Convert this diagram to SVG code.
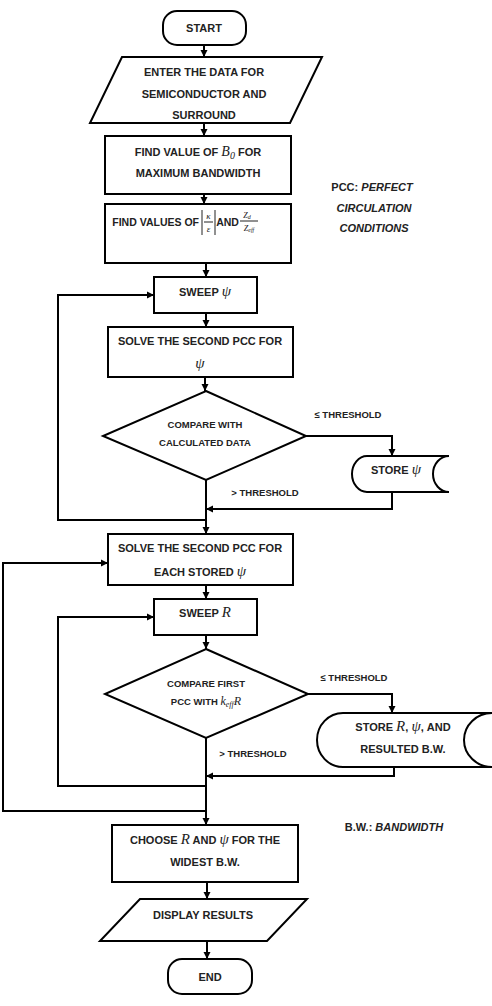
<svg xmlns="http://www.w3.org/2000/svg" width="492" height="1006" viewBox="0 0 492 1006">
<style>
.s{fill:#fff;stroke:#000;stroke-width:2}
.c{fill:none;stroke:#000;stroke-width:2}
text{font-family:"Liberation Sans",Arial,sans-serif;font-weight:bold;font-size:11px;fill:#222;text-anchor:middle}
text.sm{font-size:9.5px}
.m{font-family:"Liberation Serif","Times New Roman",serif;font-style:italic;font-weight:normal}
.n{font-style:italic}
text.e{text-anchor:end}
</style>
<defs>
<marker id="ah" markerUnits="userSpaceOnUse" markerWidth="8" markerHeight="8" refX="7" refY="4" orient="auto">
<path d="M0,0.5 L7,4 L0,7.5 z" fill="#000"/>
</marker>
</defs>
<rect width="492" height="1006" fill="#fff"/>
<g id="connectors">
<path class="c" d="M204,45 V57" marker-end="url(#ah)"/>
<path class="c" d="M204,123 V136" marker-end="url(#ah)"/>
<path class="c" d="M204,194 V204" marker-end="url(#ah)"/>
<path class="c" d="M206,263 V277" marker-end="url(#ah)"/>
<path class="c" d="M206,313 V327" marker-end="url(#ah)"/>
<path class="c" d="M205,377 V391" marker-end="url(#ah)"/>
<path class="c" d="M306,436 H392 V456" marker-end="url(#ah)"/>
<path class="c" d="M392,492 V509 H206" marker-end="url(#ah)"/>
<path class="c" d="M206,480 V534" marker-end="url(#ah)"/>
<path class="c" d="M206,520 H58 V295 H154" marker-end="url(#ah)"/>
<path class="c" d="M206,585 V599" marker-end="url(#ah)"/>
<path class="c" d="M206,635 V649" marker-end="url(#ah)"/>
<path class="c" d="M308,694 H392 V713" marker-end="url(#ah)"/>
<path class="c" d="M394,767 V776 H206" marker-end="url(#ah)"/>
<path class="c" d="M206,738 V825" marker-end="url(#ah)"/>
<path class="c" d="M206,786 H58 V617 H154" marker-end="url(#ah)"/>
<path class="c" d="M206,811 H3 V563 H108" marker-end="url(#ah)"/>
<path class="c" d="M207,882 V899" marker-end="url(#ah)"/>
<path class="c" d="M207,941 V959" marker-end="url(#ah)"/>
<text x="348" y="418" class="sm">≤ THRESHOLD</text>
<text x="265" y="496" class="sm">&gt; THRESHOLD</text>
<text x="354" y="681" class="sm">≤ THRESHOLD</text>
<text x="253" y="757" class="sm">&gt; THRESHOLD</text>
</g>
<g id="start">
<rect class="s" x="163" y="11" width="83" height="34" rx="14"/>
<text x="204" y="32">START</text>
</g>
<g id="enter">
<path class="s" d="M122,57 H322 L290,123 H90 Z"/>
<text x="204" y="76">ENTER THE DATA FOR</text>
<text x="204" y="98">SEMICONDUCTOR AND</text>
<text x="204" y="119">SURROUND</text>
</g>
<g id="findB0">
<rect class="s" x="105" y="136" width="186" height="58"/>
<text x="198" y="156">FIND VALUE OF <tspan class="m" font-size="14">B</tspan><tspan class="m" font-size="10" dy="3">0</tspan><tspan dy="-3"> FOR</tspan></text>
<text x="198" y="177">MAXIMUM BANDWIDTH</text>
</g>
<g id="findK">
<rect class="s" x="105" y="204" width="186" height="59"/>
<text x="199" y="226" class="e" style="font-size:10.5px">FIND VALUES OF</text>
<path d="M202,210 V235 M215,210 V235 M204,222 H213 M240,221 H258" stroke="#222" stroke-width="1" fill="none"/>
<text x="208.5" y="219" class="m" style="font-size:9px">κ</text>
<text x="208.5" y="232" class="m" style="font-size:9px">ε</text>
<text x="227.5" y="226" style="font-size:10.5px">AND</text>
<text x="247" y="218" class="m" style="font-size:8px">Z<tspan font-size="6" dy="1">d</tspan></text>
<text x="249" y="231" class="m" style="font-size:8px">Z<tspan font-size="6" dy="1">eff</tspan></text>
</g>
<g id="note-pcc">
<text x="372" y="191">PCC: <tspan class="n">PERFECT</tspan></text>
<text x="374" y="212" class="n">CIRCULATION</text>
<text x="374" y="232" class="n">CONDITIONS</text>
</g>
<g id="sweepPsi">
<rect class="s" x="154" y="277" width="103" height="36"/>
<text x="205" y="296">SWEEP <tspan class="m" font-size="15">ψ</tspan></text>
</g>
<g id="solve1">
<rect class="s" x="108" y="327" width="185" height="50"/>
<text x="200" y="345">SOLVE THE SECOND PCC FOR</text>
<text x="200" y="368" class="m" style="font-size:15px">ψ</text>
</g>
<g id="compare1">
<path class="s" d="M206,391 L306,436 L206,480 L103,436 Z"/>
<text x="205" y="428" class="sm">COMPARE WITH</text>
<text x="205" y="446" class="sm">CALCULATED DATA</text>
</g>
<g id="storePsi">
<path class="s" d="M367,456 H449 A16,18 0 0 0 449,492 H367 A15,18 0 0 1 367,456 Z"/>
<text x="396" y="474">STORE <tspan class="m" font-size="15">ψ</tspan></text>
</g>
<g id="solve2">
<rect class="s" x="108" y="534" width="185" height="51"/>
<text x="200" y="552">SOLVE THE SECOND PCC FOR</text>
<text x="200" y="576">EACH STORED <tspan class="m" font-size="15">ψ</tspan></text>
</g>
<g id="sweepR">
<rect class="s" x="154" y="599" width="103" height="36"/>
<text x="205" y="617">SWEEP <tspan class="m" font-size="15">R</tspan></text>
</g>
<g id="compare2">
<path class="s" d="M206,649 L308,694 L206,738 L105,694 Z"/>
<text x="206" y="687" class="sm">COMPARE FIRST</text>
<text x="206" y="705" class="sm">PCC WITH <tspan class="m" font-size="12">k</tspan><tspan class="m" font-size="8" dy="2">eff</tspan><tspan class="m" font-size="12" dy="-2">R</tspan></text>
</g>
<g id="storeR">
<path class="s" d="M343,713 H492 A28,27 0 0 0 492,767 H343 A26,27 0 0 1 343,713 Z"/>
<text x="403" y="731">STORE <tspan class="m" font-size="15">R</tspan>, <tspan class="m" font-size="15">ψ</tspan>, AND</text>
<text x="403" y="753">RESULTED B.W.</text>
</g>
<g id="note-bw">
<text x="394" y="831">B.W.: <tspan class="n">BANDWIDTH</tspan></text>
</g>
<g id="choose">
<rect class="s" x="112" y="825" width="186" height="57"/>
<text x="205" y="844">CHOOSE <tspan class="m" font-size="15">R</tspan> AND <tspan class="m" font-size="15">ψ</tspan>  FOR THE</text>
<text x="205" y="866">WIDEST B.W.</text>
</g>
<g id="display">
<path class="s" d="M140,899 H307 L267,941 H100 Z"/>
<text x="203" y="919">DISPLAY RESULTS</text>
</g>
<g id="end">
<rect class="s" x="168" y="959" width="84" height="35" rx="14"/>
<text x="210" y="981">END</text>
</g>
</svg>
